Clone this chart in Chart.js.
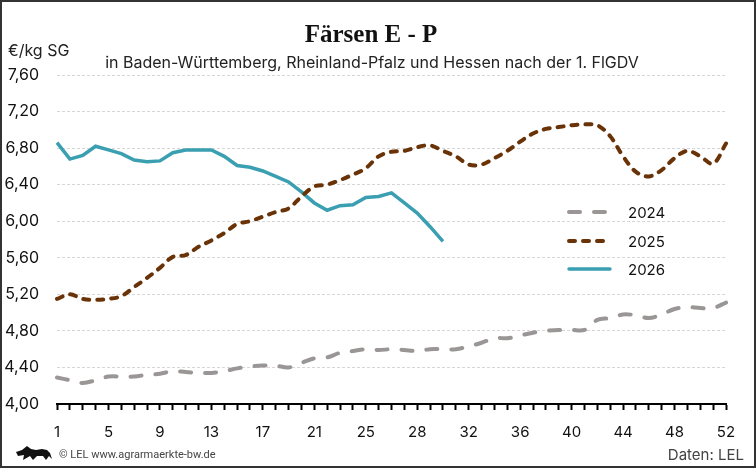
<!DOCTYPE html>
<html>
<head>
<meta charset="utf-8">
<script src="https://cdn.jsdelivr.net/npm/chart.js@4"></script>
<style>
  body { margin: 0; background: #fff; }
  #wrap { width: 756px; height: 468px; }
</style>
</head>
<body>
<div id="wrap"><canvas id="myChart" width="756" height="468"></canvas></div>
<script>
// Wochen (53 Kategorien, Beschriftung wie im Original)
const weeks = [1, 2, 3, 4, 5, 6, 7, 8, 9, 10, 11, 12, 13, 14, 15, 16, 17, 18, 19, 20,
    21, 22, 23, 24, 25, 26, 26, 27, 28, 29, 30, 31, 32, 33, 34, 35, 36, 37, 38, 39, 40,
    41, 42, 43, 44, 45, 46, 47, 48, 49, 50, 51, 52];

const values2024 = [4.29, 4.26, 4.23, 4.26, 4.30, 4.30, 4.30, 4.32, 4.33, 4.36,
    4.35, 4.34, 4.34, 4.36, 4.39, 4.41, 4.42, 4.42, 4.40, 4.45,
    4.50, 4.51, 4.56, 4.58, 4.60, 4.59, 4.60, 4.59, 4.58, 4.60,
    4.60, 4.60, 4.63, 4.67, 4.72, 4.72, 4.75, 4.78, 4.80, 4.81,
    4.81, 4.81, 4.92, 4.94, 4.98, 4.97, 4.94, 4.98, 5.04, 5.06,
    5.05, 5.05, 5.11];

const values2025 = [5.15, 5.20, 5.15, 5.14, 5.15, 5.18, 5.28, 5.38, 5.49, 5.61,
    5.63, 5.72, 5.79, 5.87, 5.97, 6.00, 6.05, 6.10, 6.14, 6.27,
    6.38, 6.40, 6.45, 6.51, 6.58, 6.71, 6.76, 6.77, 6.81, 6.83,
    6.77, 6.71, 6.62, 6.62, 6.69, 6.77, 6.87, 6.96, 7.01, 7.03,
    7.05, 7.06, 7.05, 6.93, 6.71, 6.54, 6.49, 6.56, 6.69, 6.77,
    6.71, 6.63, 6.85];

const values2026 = [6.86, 6.68, 6.72, 6.82, 6.78, 6.74, 6.67, 6.65, 6.66, 6.75,
    6.78, 6.78, 6.78, 6.71, 6.61, 6.59, 6.55, 6.49, 6.43, 6.32,
    6.20, 6.12, 6.17, 6.18, 6.26, 6.27, 6.31, 6.20, 6.09, 5.94,
    5.78];

const yTicks = [4.0, 4.4, 4.8, 5.2, 5.6, 6.0, 6.4, 6.8, 7.2, 7.6];

const fontSans = "Inter, Roboto, 'Liberation Sans', sans-serif";

// Texte, Legende, Rahmen und Logo direkt auf die Leinwand
const decorations = {
    id: 'decorations',
    afterDraw(chart) {
        const ctx = chart.ctx;
        ctx.save();

        // Titel
        ctx.fillStyle = '#111';
        ctx.textAlign = 'center';
        ctx.textBaseline = 'alphabetic';
        ctx.font = "bold 25px 'Liberation Serif', serif";
        ctx.fillText('Färsen E - P', 371, 42);
        ctx.font = '16px ' + fontSans;
        ctx.fillStyle = '#222';
        ctx.fillText('in Baden-Württemberg, Rheinland-Pfalz und Hessen nach der 1. FlGDV', 372, 68);

        // Einheit
        ctx.textAlign = 'left';
        ctx.fillText('€/kg SG', 8, 56);

        // Legende
        ctx.textBaseline = 'middle';
        const legY = [212, 241, 269];
        chart.data.datasets.forEach((ds, i) => {
            ctx.beginPath();
            ctx.strokeStyle = ds.borderColor;
            ctx.lineWidth = ds.borderWidth;
            ctx.lineCap = 'round';
            ctx.setLineDash(ds.borderDash || []);
            ctx.moveTo(569, legY[i]);
            ctx.lineTo(610, legY[i]);
            ctx.stroke();
            ctx.setLineDash([]);
            ctx.fillStyle = '#111';
            ctx.font = '15px ' + fontSans;
            ctx.fillText(ds.label, 628, legY[i] + 1);
        });

        // Fusszeile
        ctx.fillStyle = '#444';
        ctx.font = "11px Roboto, sans-serif";
        ctx.fillText('© LEL www.agrarmaerkte-bw.de', 59, 455);
        ctx.font = '15px ' + fontSans;
        ctx.textAlign = 'right';
        ctx.fillText('Daten: LEL', 744, 455);

        // Loewe (vereinfacht)
        ctx.fillStyle = '#111';
        ctx.beginPath();
        ctx.moveTo(16, 452);
        ctx.lineTo(22, 450);
        ctx.lineTo(27, 446);
        ctx.lineTo(31, 449);
        ctx.lineTo(36, 450);
        ctx.lineTo(42, 449);
        ctx.lineTo(47, 450);
        ctx.lineTo(50, 453);
        ctx.lineTo(52, 459);
        ctx.lineTo(49, 456);
        ctx.lineTo(46, 460);
        ctx.lineTo(43, 456);
        ctx.lineTo(37, 456);
        ctx.lineTo(33, 460);
        ctx.lineTo(30, 456);
        ctx.lineTo(23, 460);
        ctx.lineTo(24, 455);
        ctx.lineTo(18, 456);
        ctx.closePath();
        ctx.fill();

        // Rahmen
        ctx.strokeStyle = '#333';
        ctx.lineWidth = 2;
        ctx.strokeRect(1, 1, 754, 466);
        ctx.restore();
    }
};

new Chart('myChart', {
    type: 'line',
    data: {
        labels: weeks,
        datasets: [{
            label: '2024',
            data: values2024,
            borderColor: '#9a9696',
            borderWidth: 4,
            borderDash: [11, 14],
            borderCapStyle: 'round',
            tension: 0.35,
            pointRadius: 0
        }, {
            label: '2025',
            data: values2025,
            borderColor: '#6a3307',
            borderWidth: 4,
            borderDash: [6, 8],
            borderCapStyle: 'round',
            tension: 0.35,
            pointRadius: 0
        }, {
            label: '2026',
            data: values2026,
            borderColor: '#3a9fb1',
            borderWidth: 3.5,
            tension: 0,
            pointRadius: 0
        }]
    },
    options: {
        responsive: false,
        animation: false,
        layout: { padding: { left: 0, right: 30, top: 75, bottom: 0 } },
        plugins: {
            legend: { display: false },
            tooltip: { enabled: false }
        },
        scales: {
            x: {
                offset: false,
                border: { display: true, color: '#000', width: 2 },
                grid: {
                    drawOnChartArea: false,
                    drawTicks: true,
                    tickLength: 6,
                    tickColor: '#000',
                    tickWidth: 2
                },
                ticks: {
                    autoSkip: false,
                    maxRotation: 0,
                    padding: 13,
                    color: '#111',
                    font: { family: fontSans, size: 15 },
                    callback: (val, idx) => idx % 4 === 0 ? weeks[idx] : ''
                },
                afterFit: (scale) => { scale.height = 64; }
            },
            y: {
                min: 4.0,
                max: 7.6,
                border: { display: false, dash: [3, 2] },
                grid: {
                    color: '#d6d6d6',
                    lineWidth: 1,
                    drawTicks: false
                },
                afterBuildTicks: (scale) => {
                    scale.ticks = yTicks.map(v => ({ value: v }));
                },
                ticks: {
                    padding: 18,
                    color: '#111',
                    font: { family: fontSans, size: 16 },
                    callback: (v) => v.toFixed(2).replace('.', ',')
                },
                afterFit: (scale) => { scale.width = 57; }
            }
        }
    },
    plugins: [decorations]
});
</script>
</body>
</html>
